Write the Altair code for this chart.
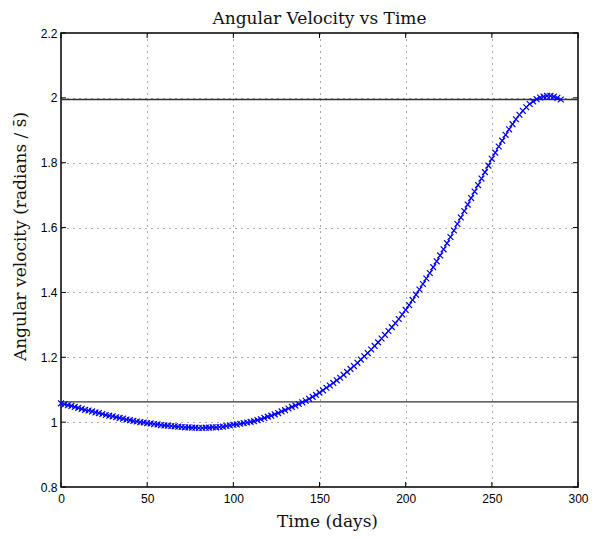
import altair as alt
import pandas as pd

# Time (days)
times = [
    0, 2, 4, 6, 8, 10, 12, 14, 16, 18,
    20, 22, 24, 26, 28, 30, 32, 34, 36, 38,
    40, 42, 44, 46, 48, 50, 52, 54, 56, 58,
    60, 62, 64, 66, 68, 70, 72, 74, 76, 78,
    80, 82, 84, 86, 88, 90, 92, 94, 96, 98,
    100, 102, 104, 106, 108, 110, 112, 114, 116, 118,
    120, 122, 124, 126, 128, 130, 132, 134, 136, 138,
    140, 142, 144, 146, 148, 150, 152, 154, 156, 158,
    160, 162, 164, 166, 168, 170, 172, 174, 176, 178,
    180, 182, 184, 186, 188, 190, 192, 194, 196, 198,
    200, 202, 204, 206, 208, 210, 212, 214, 216, 218,
    220, 222, 224, 226, 228, 230, 232, 234, 236, 238,
    240, 242, 244, 246, 248, 250, 252, 254, 256, 258,
    260, 262, 264, 266, 268, 270, 272, 274, 276, 278,
    280, 282, 284, 286, 288, 290,
]

# Angular velocity (radians / s)
omega = [
    1.058, 1.055, 1.052, 1.050, 1.047, 1.044, 1.041, 1.038, 1.036, 1.033,
    1.030, 1.028, 1.025, 1.022, 1.020, 1.018, 1.015, 1.013, 1.011, 1.008,
    1.006, 1.004, 1.002, 1.000, 0.999, 0.997, 0.996, 0.994, 0.993, 0.991,
    0.990, 0.989, 0.988, 0.987, 0.986, 0.985, 0.984, 0.984, 0.983, 0.983,
    0.982, 0.982, 0.983, 0.983, 0.984, 0.984, 0.985, 0.986, 0.988, 0.990,
    0.992, 0.993, 0.995, 0.997, 0.999, 1.001, 1.003, 1.006, 1.009, 1.013,
    1.017, 1.020, 1.024, 1.028, 1.033, 1.037, 1.042, 1.047, 1.051, 1.056,
    1.061, 1.066, 1.072, 1.078, 1.084, 1.091, 1.098, 1.106, 1.113, 1.121,
    1.129, 1.137, 1.146, 1.155, 1.164, 1.173, 1.183, 1.193, 1.203, 1.213,
    1.224, 1.235, 1.246, 1.258, 1.269, 1.281, 1.293, 1.305, 1.318, 1.332,
    1.346, 1.361, 1.377, 1.393, 1.409, 1.426, 1.443, 1.460, 1.478, 1.496,
    1.514, 1.533, 1.552, 1.571, 1.591, 1.611, 1.631, 1.651, 1.671, 1.691,
    1.711, 1.731, 1.751, 1.771, 1.791, 1.812, 1.831, 1.850, 1.868, 1.886,
    1.903, 1.919, 1.934, 1.948, 1.960, 1.971, 1.981, 1.989, 1.996, 2.001,
    2.004, 2.006, 2.006, 2.004, 2.000, 1.995,
]

# Reference horizontal lines
ref_levels = [1.995, 1.0625]

x_ticks = [0, 50, 100, 150, 200, 250, 300]
y_ticks = [0.8, 1.0, 1.2, 1.4, 1.6, 1.8, 2.0, 2.2]

W, H = 517, 454

df = pd.DataFrame({"t": times, "w": omega})
ref_df = pd.DataFrame({"level": ref_levels})
xt_df = pd.DataFrame({"v": x_ticks})
yt_df = pd.DataFrame({"v": y_ticks})

xscale = alt.Scale(domain=[0, 300], nice=False, zero=False)
yscale = alt.Scale(domain=[0.8, 2.2], nice=False, zero=False)

x_axis = alt.Axis(
    values=x_ticks, format="d", grid=True, ticks=False, domain=False,
    labelFlush=False, labelPadding=6, title="Time (days)", titleX=266,
    titleY=34, titleBaseline="middle", titleAlign="center",
)
y_axis = alt.Axis(
    values=y_ticks, format="~g", grid=True, ticks=False, domain=False,
    labelFlush=False, labelPadding=4,
    title="Angular velocity (radians / s\u0304)",
    titleX=-41, titleY=203, titleBaseline="middle", titleAlign="center",
    titleAngle=270,
)

X = lambda f: alt.X(f, scale=xscale, axis=x_axis)
Y = lambda f: alt.Y(f, scale=yscale, axis=y_axis)

line = alt.Chart(df).mark_line(color="#0000ff", strokeWidth=1).encode(
    x=X("t:Q"), y=Y("w:Q"),
)

points = alt.Chart(df).mark_point(
    shape="M-1,-1L1,1M-1,1L1,-1", filled=False, color="#0000ff",
    size=34, strokeWidth=1.2, opacity=1,
).encode(x=X("t:Q"), y=Y("w:Q"))

refs = alt.Chart(ref_df).mark_rule(color="#333333", strokeWidth=1.3).encode(
    y=Y("level:Q"),
)

xt_bottom = alt.Chart(xt_df).mark_rule(color="black", strokeWidth=1).encode(
    x=X("v:Q"), y=alt.value(H), y2=alt.value(H - 5)
)
xt_top = alt.Chart(xt_df).mark_rule(color="black", strokeWidth=1).encode(
    x=X("v:Q"), y=alt.value(0), y2=alt.value(5)
)
yt_left = alt.Chart(yt_df).mark_rule(color="black", strokeWidth=1).encode(
    y=Y("v:Q"), x=alt.value(0), x2=alt.value(5)
)
yt_right = alt.Chart(yt_df).mark_rule(color="black", strokeWidth=1).encode(
    y=Y("v:Q"), x=alt.value(W), x2=alt.value(W - 5)
)

chart = alt.layer(
    line, refs, points, xt_bottom, xt_top, yt_left, yt_right
).properties(
    width=W,
    height=H,
    title=alt.TitleParams(
        "Angular Velocity vs Time", font="DejaVu Serif", fontSize=17,
        fontWeight="normal", color="#111111", offset=0, anchor="middle",
        baseline="bottom", dy=18,
    ),
    autosize=alt.AutoSizeParams(type="none"),
    padding={"left": 61, "top": 33, "right": 23, "bottom": 51},
    background="white",
).configure_view(
    stroke="black", strokeWidth=1.5
).configure_axis(
    labelFont="Liberation Sans", labelFontSize=12, labelColor="black",
    titleFont="DejaVu Serif", titleFontSize=17, titleFontWeight="normal",
    titleColor="#111111", gridColor="#444444", gridDash=[1, 5],
    gridWidth=1, gridOpacity=0.9,
)

chart.save("out.html", embed_options={"renderer": "svg", "actions": False})
